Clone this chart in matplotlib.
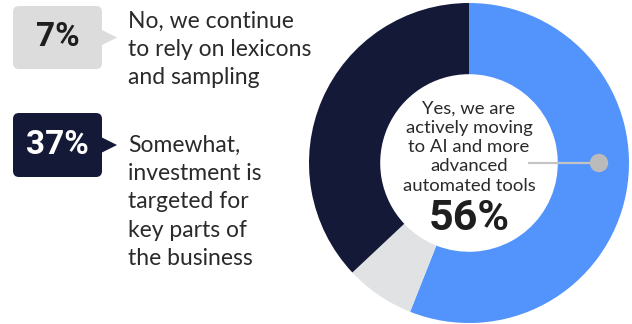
import matplotlib.pyplot as plt
from matplotlib.patches import FancyBboxPatch, Polygon, Circle

# survey answers, in drawing order (clockwise from 12 o'clock)
answers = ["Yes, we are\nactively moving\nto AI and more\nadvanced\nautomated tools",
           "No, we continue\nto rely on lexicons\nand sampling",
           "Somewhat,\ninvestment is\ntargeted for\nkey parts of\nthe business"]
shares = [56, 7, 37]
colors = ["#5394FC", "#E1E2E4", "#141938"]

W, H = 632, 324
text_color = "#2A2A2A"
body_font = "Lato"
num_font = dict(family="Roboto", weight="bold")

fig = plt.figure(figsize=(W / 100, H / 100), dpi=100)
ax = fig.add_axes([0, 0, 1, 1])

# donut
cx, cy, r = 469, 161, 160
ax.pie(shares, colors=colors, startangle=90, counterclock=False,
       center=(cx, cy), radius=r,
       wedgeprops=dict(width=r * 0.445, linewidth=0))

ax.set_xlim(0, W)
ax.set_ylim(0, H)
ax.set_aspect("equal")
ax.axis("off")

# connector from the centre label to the blue ring
ax.plot([528, 599], [cy, cy], color="#C4C4C4", lw=1.6, solid_capstyle="butt", zorder=3)
ax.add_patch(Circle((599, cy), 8.5, color="#BBBBBB", zorder=4))

ax.text(cx, 177, answers[0], ha="center", va="center", fontsize=13.3,
        family=body_font, color=text_color, linespacing=1.26)
ax.text(cx, 105, f"{shares[0]}%", ha="center", va="center", fontsize=31,
        color="#1E1E1E", **num_font)


def callout(y_top, y_bot, face, label, label_color):
    x0, x1 = 13, 102
    pad = 6
    ax.add_patch(FancyBboxPatch((x0 + pad, y_bot + pad), x1 - x0 - 2 * pad,
                                y_top - y_bot - 2 * pad,
                                boxstyle=f"round,pad={pad}", fc=face, ec="none"))
    ym = (y_top + y_bot) / 2
    ax.add_patch(Polygon([(x1 - 1, ym + 8), (117, ym), (x1 - 1, ym - 8)],
                         closed=True, fc=face, ec="none"))
    ax.text((x0 + x1) / 2, ym, label, ha="center", va="center", fontsize=24,
            color=label_color, **num_font)


callout(318, 255, "#DCDCDC", f"{shares[1]}%", "#1E1E1E")
ax.text(128, 275, answers[1], ha="left", va="center", fontsize=16.5,
        family=body_font, color=text_color, linespacing=1.42)

callout(211, 147, colors[2], f"{shares[2]}%", "white")
ax.text(128, 122, answers[2], ha="left", va="center", fontsize=16.5,
        family=body_font, color=text_color, linespacing=1.42)

fig.savefig("out.png", dpi=100, facecolor="white")
